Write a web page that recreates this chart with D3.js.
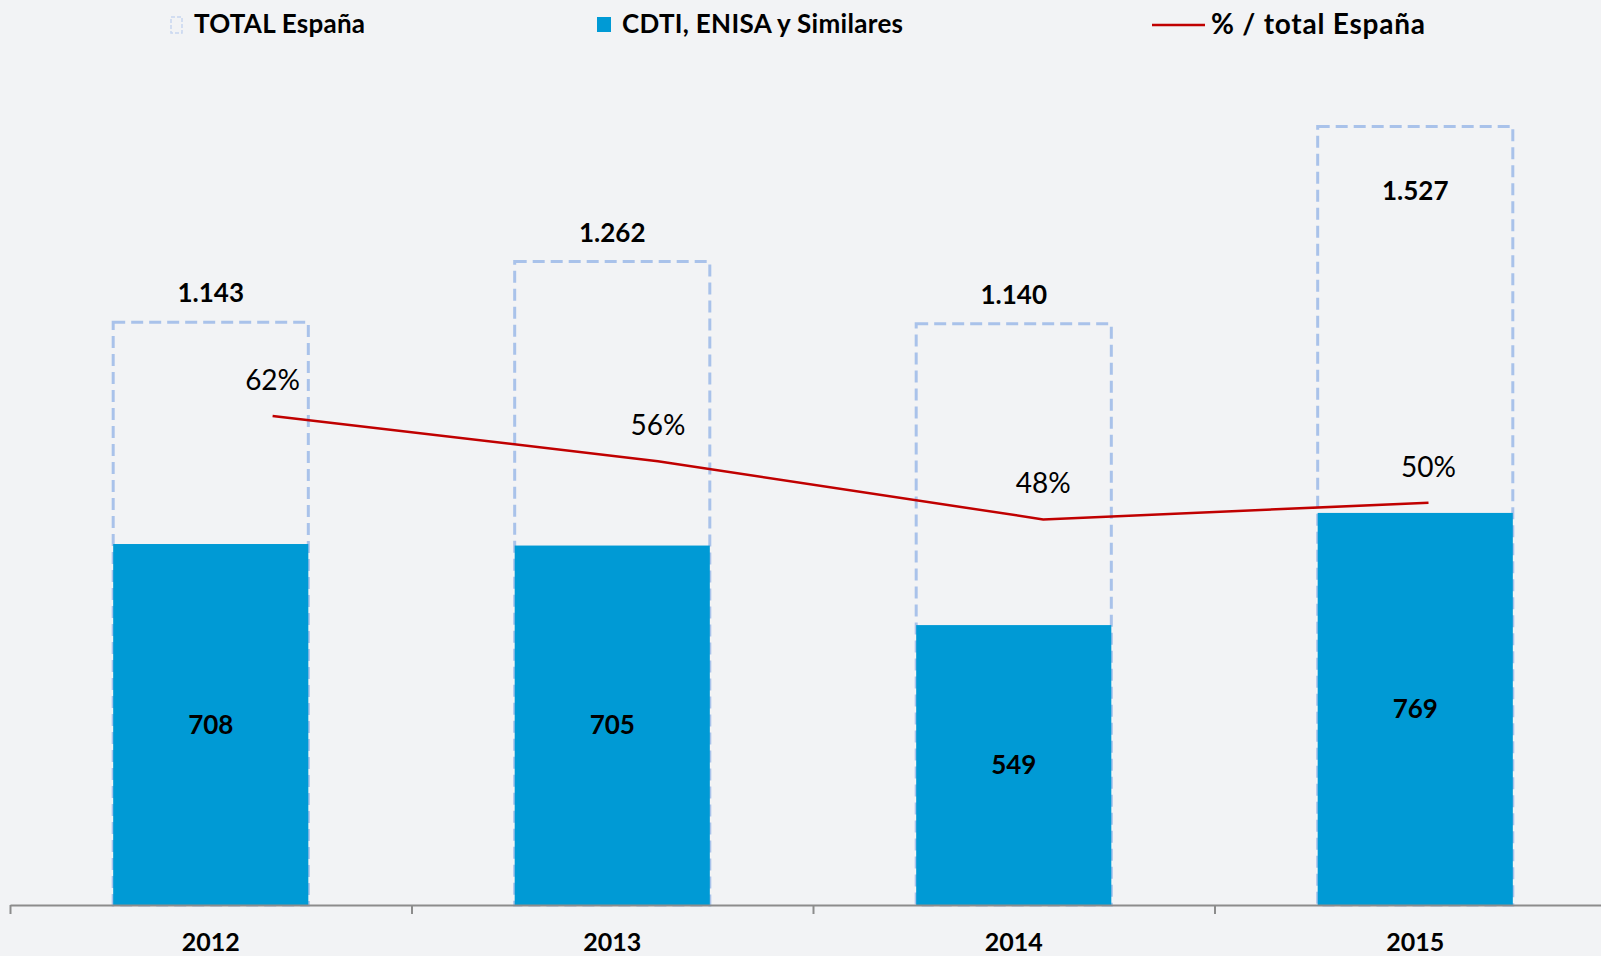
<!DOCTYPE html>
<html>
<head>
<meta charset="utf-8">
<script src="https://cdn.jsdelivr.net/npm/d3@7"></script>
<style>
  body { margin: 0; background: #f2f3f5; }
  svg { display: block; font-family: Lato, "Open Sans", sans-serif; }
</style>
</head>
<body>
<script>
// DATA =============================================
var years = ['2012', '2013', '2014', '2015'];
var totalEspana = [1143, 1262, 1140, 1527];
var cdtiEnisa = [708, 705, 549, 769];
var pctTotal = [61.9, 55.9, 48.2, 50.4];
var legendLabels = ['TOTAL España', 'CDTI, ENISA y Similares', '% / total España'];
// ==================================================

var width = 1601,
    height = 956;

var esLocale = d3.formatLocale({ decimal: ',', thousands: '.', grouping: [3], currency: ['', ' €'] });
var fmt = esLocale.format(',d');

var svg = d3.select('body').append('svg')
    .attr('width', width)
    .attr('height', height);

svg.append('rect')
    .attr('width', width)
    .attr('height', height)
    .attr('fill', '#f2f3f5');

var baseY = 905;

var x = d3.scaleBand()
    .domain(years)
    .range([10, 1616])
    .paddingInner(0.514)
    .paddingOuter(0.257);

var xEdge = d3.scaleLinear()
    .domain([0, years.length])
    .range([10, 1616]);

var y = d3.scaleLinear()
    .domain([0, 1775])
    .range([baseY, 0]);

// secondary scales for the % line
var xLine = d3.scalePoint()
    .domain(years)
    .range([272.6, 1428.5]);

var yPct = d3.scaleLinear()
    .domain([0, 100])
    .range([883.6, 128]);

var rows = years.map((yr, i) => ({ year: yr, total: totalEspana[i], cdti: cdtiEnisa[i], pct: pctTotal[i] }));

// dashed total boxes
svg.selectAll('.total')
    .data(rows)
  .enter().append('rect')
    .attr('class', 'total')
    .attr('x', d => x(d.year))
    .attr('y', d => y(d.total))
    .attr('width', x.bandwidth())
    .attr('height', d => baseY - y(d.total))
    .attr('fill', 'none')
    .attr('stroke', '#a9c2ea')
    .attr('stroke-width', 3)
    .attr('stroke-dasharray', '12,6');

// CDTI bars
svg.selectAll('.cdti')
    .data(rows)
  .enter().append('rect')
    .attr('class', 'cdti')
    .attr('x', d => x(d.year))
    .attr('y', d => y(d.cdti))
    .attr('width', x.bandwidth())
    .attr('height', d => baseY - y(d.cdti))
    .attr('fill', '#009ad5');

// axis: boundary ticks
svg.append('g')
    .attr('transform', 'translate(0,' + baseY + ')')
    .call(d3.axisBottom(xEdge).ticks(years.length).tickSize(9).tickSizeOuter(0).tickFormat(''))
    .call(g => g.selectAll('path, line').attr('stroke', '#8c8c8c').attr('stroke-width', 2));

// axis: year labels
svg.append('g')
    .attr('transform', 'translate(0,' + baseY + ')')
    .call(d3.axisBottom(x).tickSize(0).tickPadding(0))
    .call(g => g.select('.domain').remove())
    .call(g => g.selectAll('text')
        .attr('y', 46)
        .attr('dy', null)
        .attr('fill', '#000')
        .attr('font-family', 'Lato, sans-serif')
        .attr('font-size', '25px')
        .attr('font-weight', 'bold'));

// % line
var line = d3.line()
    .x(d => xLine(d.year))
    .y(d => yPct(d.pct));

svg.append('path')
    .datum(rows)
    .attr('d', line)
    .attr('fill', 'none')
    .attr('stroke', '#c00000')
    .attr('stroke-width', 2.5);

svg.selectAll('.pctLabel')
    .data(rows)
  .enter().append('text')
    .attr('class', 'pctLabel')
    .attr('x', d => xLine(d.year))
    .attr('y', d => yPct(d.pct) - 26)
    .attr('text-anchor', 'middle')
    .attr('font-size', '28px')
    .attr('fill', '#000')
    .text(d => Math.round(d.pct) + '%');

// total labels (kept inside the plot top)
svg.selectAll('.totalLabel')
    .data(rows)
  .enter().append('text')
    .attr('class', 'totalLabel')
    .attr('x', d => x(d.year) + x.bandwidth() / 2)
    .attr('y', d => Math.max(y(d.total) - 29, 191))
    .attr('dy', '0.35em')
    .attr('text-anchor', 'middle')
    .attr('font-size', '26px')
    .attr('font-weight', 'bold')
    .attr('fill', '#000')
    .text(d => fmt(d.total));

// cdti labels
svg.selectAll('.cdtiLabel')
    .data(rows)
  .enter().append('text')
    .attr('class', 'cdtiLabel')
    .attr('x', d => x(d.year) + x.bandwidth() / 2)
    .attr('y', d => (y(d.cdti) + baseY) / 2)
    .attr('dy', '0.35em')
    .attr('text-anchor', 'middle')
    .attr('font-size', '26px')
    .attr('font-weight', 'bold')
    .attr('fill', '#000')
    .text(d => fmt(d.cdti));

// legend
var legend = svg.append('g').attr('font-size', '26px').attr('font-weight', 'bold');

legend.append('rect')
    .attr('x', 171).attr('y', 17).attr('width', 11).attr('height', 16)
    .attr('fill', 'none').attr('stroke', '#c8d6f0').attr('stroke-width', 1.5)
    .attr('stroke-dasharray', '4,2');
legend.append('text')
    .attr('x', 194).attr('y', 24).attr('dy', '0.35em')
    .attr('textLength', 171).attr('lengthAdjust', 'spacing')
    .text(legendLabels[0]);

legend.append('rect')
    .attr('x', 597).attr('y', 17).attr('width', 14).attr('height', 15)
    .attr('fill', '#009ad5');
legend.append('text')
    .attr('x', 622).attr('y', 24).attr('dy', '0.35em')
    .attr('textLength', 281).attr('lengthAdjust', 'spacing')
    .text(legendLabels[1]);

legend.append('line')
    .attr('x1', 1152).attr('x2', 1205).attr('y1', 25).attr('y2', 25)
    .attr('stroke', '#c00000').attr('stroke-width', 2.5);
legend.append('text')
    .attr('x', 1211).attr('y', 24).attr('dy', '0.35em')
    .attr('font-size', '28px')
    .attr('textLength', 214).attr('lengthAdjust', 'spacing')
    .text(legendLabels[2]);
</script>
</body>
</html>
